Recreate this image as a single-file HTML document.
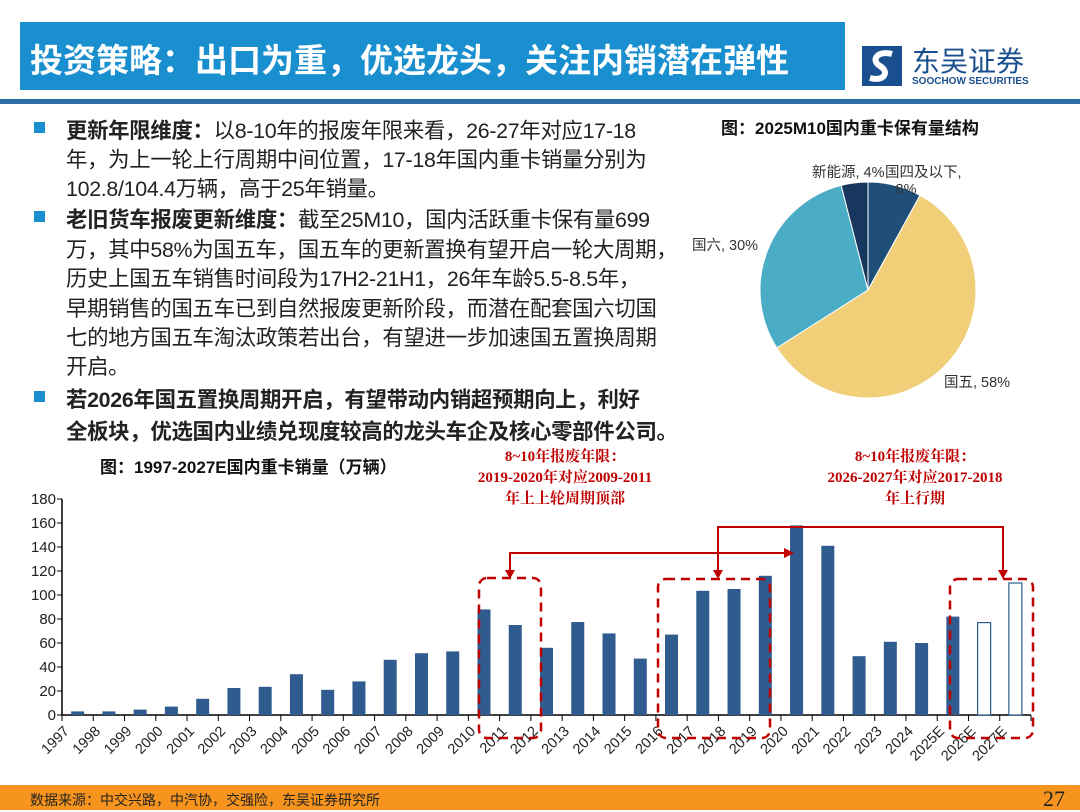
<!DOCTYPE html>
<html><head><meta charset="utf-8"><style>
body{margin:0;width:1080px;height:810px;position:relative;background:#fff;overflow:hidden;font-family:"Liberation Sans","Noto Sans CJK SC",sans-serif;}
.abs{position:absolute}
.line{position:absolute;left:66px;font-size:21.4px;color:#222;white-space:nowrap;letter-spacing:-0.3px}
.b{font-weight:bold}
.bul{position:absolute;left:34px;width:11px;height:11px;background:#1a8fd0}
</style></head><body>
<div class="abs" style="left:20px;top:22px;width:825px;height:68px;background:#1a8fd0;"></div>
<div class="abs" style="left:30px;top:34px;font-size:33px;font-weight:bold;color:#fff;white-space:nowrap;">投资策略：出口为重，优选龙头，关注内销潜在弹性</div>
<div class="abs" style="left:860px;top:44px;width:170px;height:46px;">
<svg width="46" height="44" style="position:absolute;left:0;top:0"><rect x="2" y="2" width="40" height="40" fill="#1a4f8f"/><path d="M32 10 C18 6 10 16 20 22 C30 28 24 38 10 34" stroke="#fff" stroke-width="6" fill="none"/></svg>
<div style="position:absolute;left:52px;top:-4px;font-size:28px;color:#1a4f8f;white-space:nowrap">东吴证券</div>
<div style="position:absolute;left:52px;top:32px;font-size:10px;font-weight:bold;color:#1a4f8f;white-space:nowrap">SOOCHOW SECURITIES</div></div>
<div class="abs" style="left:0;top:99px;width:1080px;height:5px;background:#2e6da4;"></div>

<div class="bul" style="top:122px"></div><div class="bul" style="top:211px"></div><div class="bul" style="top:391px"></div>
<div>
<div class="line" style="top:114px"><span class="b">更新年限维度：</span>以8-10年的报废年限来看，26-27年对应17-18</div>
<div class="line" style="top:143px">年，为上一轮上行周期中间位置，17-18年国内重卡销量分别为</div>
<div class="line" style="top:172px">102.8/104.4万辆，高于25年销量。</div>
<div class="line" style="top:203px"><span class="b">老旧货车报废更新维度：</span>截至25M10，国内活跃重卡保有量699</div>
<div class="line" style="top:233px">万，其中58%为国五车，国五车的更新置换有望开启一轮大周期，</div>
<div class="line" style="top:262px">历史上国五车销售时间段为17H2-21H1，26年车龄5.5-8.5年，</div>
<div class="line" style="top:292px">早期销售的国五车已到自然报废更新阶段，而潜在配套国六切国</div>
<div class="line" style="top:321px">七的地方国五车淘汰政策若出台，有望进一步加速国五置换周期</div>
<div class="line" style="top:350px">开启。</div>
<div class="line b" style="top:383px">若2026年国五置换周期开启，有望带动内销超预期向上，利好</div>
<div class="line b" style="top:415px">全板块，优选国内业绩兑现度较高的龙头车企及核心零部件公司。</div>
</div>

<svg class="abs" style="left:0;top:0" width="1080" height="810" id="svg">
<text x="850" y="134" font-size="17" font-weight="bold" text-anchor="middle" fill="#111">图：2025M10国内重卡保有量结构</text>
<g id="pie"></g>
<text x="100" y="473" font-size="17" font-weight="bold" fill="#111">图：1997-2027E国内重卡销量（万辆）</text>
<g id="bars"></g>
<g fill="#c00000" font-weight="bold" font-size="15" text-anchor="middle" font-family="'Liberation Serif','Noto Serif CJK SC',serif">
<text x="565" y="461">8~10年报废年限：</text><text x="565" y="482">2019-2020年对应2009-2011</text><text x="565" y="503">年上上轮周期顶部</text></g>
<g fill="#c00000" font-weight="bold" font-size="15" text-anchor="middle" font-family="'Liberation Serif','Noto Serif CJK SC',serif">
<text x="915" y="461">8~10年报废年限：</text><text x="915" y="482">2026-2027年对应2017-2018</text><text x="915" y="503">年上行期</text></g>
<g fill="none" stroke="#c00000" stroke-width="2.5" stroke-dasharray="9,6">
<rect x="479" y="578" width="62" height="160" rx="8"/><rect x="658" y="579" width="112" height="159" rx="8"/><rect x="950" y="579" width="83" height="159" rx="8"/></g>
<g stroke="#c00000" stroke-width="2" fill="none">
<polyline points="510,572 510,553 786,553"/><polyline points="718,572 718,527 1003,527 1003,572"/></g>
<g fill="#c00000"><polygon points="505,570 515,570 510,579"/><polygon points="784,548 784,558 794,553"/><polygon points="713,570 723,570 718,579"/><polygon points="998,570 1008,570 1003,579"/></g>
</svg>

<div class="abs" style="left:0;top:785px;width:1080px;height:25px;background:#f7941d;"></div>
<div class="abs" style="left:30px;top:790px;font-size:14px;color:#222;white-space:nowrap">数据来源：中交兴路，中汽协，交强险，东吴证券研究所</div>
<div class="abs" style="left:1043px;top:786px;font-size:22px;font-family:'Liberation Serif',serif;color:#222">27</div>

<script>
const pieLabels=["国四及以下","国五","国六","新能源"];
const pieValues=[8,58,30,4];
const pieColors=["#1f4e79","#f0cf78","#4bacc6","#17375e"];
const years=["1997","1998","1999","2000","2001","2002","2003","2004","2005","2006","2007","2008","2009","2010","2011","2012","2013","2014","2015","2016","2017","2018","2019","2020","2021","2022","2023","2024","2025E","2026E","2027E"];
const sales=[3,3,4.5,7,13.5,22.5,23.5,34,21,28,46,51.5,53,88,75,56,77.5,68,47,67,103.5,105,116,158,141,49,61,60,82,77,110];
const estimated=[false,false,false,false,false,false,false,false,false,false,false,false,false,false,false,false,false,false,false,false,false,false,false,false,false,false,false,false,false,true,true];
const yTicks=[0,20,40,60,80,100,120,140,160,180];
const NS="http://www.w3.org/2000/svg";
function mk(t,a,p){const e=document.createElementNS(NS,t);for(const k in a)e.setAttribute(k,a[k]);p.appendChild(e);return e;}
const pg=document.getElementById('pie');const cx=868,cy=290,r=108;
let tot=pieValues.reduce((a,b)=>a+b,0),ang=0;
pieValues.forEach((v,i)=>{const a0=ang,a1=ang+v/tot*2*Math.PI;ang=a1;
const x0=cx+r*Math.sin(a0),y0=cy-r*Math.cos(a0),x1=cx+r*Math.sin(a1),y1=cy-r*Math.cos(a1);
const p=mk('path',{d:`M${cx},${cy}L${x0},${y0}A${r},${r} 0 ${a1-a0>Math.PI?1:0} 1 ${x1},${y1}Z`,fill:pieColors[i],stroke:'#fff','stroke-width':1},pg);

});
const lbl=[[885,177,'start',pieLabels[0]+',',],[906,194,'middle',pieValues[0]+'%'],[944,387,'start',pieLabels[1]+', '+pieValues[1]+'%'],[692,250,'start',pieLabels[2]+', '+pieValues[2]+'%'],[812,177,'start',pieLabels[3]+', '+pieValues[3]+'%']];
lbl.forEach(l=>{const t=mk('text',{x:l[0],y:l[1],'text-anchor':l[2],'font-size':14.5,fill:'#333'},pg);t.textContent=l[3];

});
const bg=document.getElementById('bars');
const X0=62,X1=1031,Y0=715,Ymax=180,PH=216;
const bw=(X1-X0)/years.length;
const yS=v=>Y0-v/Ymax*PH;
const xC=i=>X0+(i+0.5)*bw;
mk('line',{x1:X0,y1:yS(0),x2:X0,y2:yS(180),stroke:'#000','stroke-width':1.5},bg);
mk('line',{x1:X0,y1:Y0,x2:X1,y2:Y0,stroke:'#000','stroke-width':1.5},bg);
yTicks.forEach(v=>{mk('line',{x1:X0-5,y1:yS(v),x2:X0,y2:yS(v),stroke:'#000'},bg);
const t=mk('text',{x:X0-6,y:yS(v)+5,'text-anchor':'end','font-size':15,fill:'#222'},bg);t.textContent=v;

});
years.forEach((y,i)=>{mk('line',{x1:X0+i*bw,y1:Y0,x2:X0+i*bw,y2:Y0+6,stroke:'#000'},bg);
const h=Y0-yS(sales[i]);
const b=mk('rect',{x:xC(i)-6.5,y:yS(sales[i]),width:13,height:h,fill:estimated[i]?'#fff':'#2f5b8e',stroke:estimated[i]?'#2f5b8e':'none','stroke-width':1.2},bg);


const t=mk('text',{x:X0+i*bw+8,y:Y0+17,'text-anchor':'end','font-size':14.5,fill:'#222',transform:`rotate(-45 ${X0+i*bw+8} ${Y0+17})`},bg);t.textContent=y;

});
mk('line',{x1:X1,y1:Y0,x2:X1,y2:Y0+6,stroke:'#000'},bg);
</script>
</body></html>
